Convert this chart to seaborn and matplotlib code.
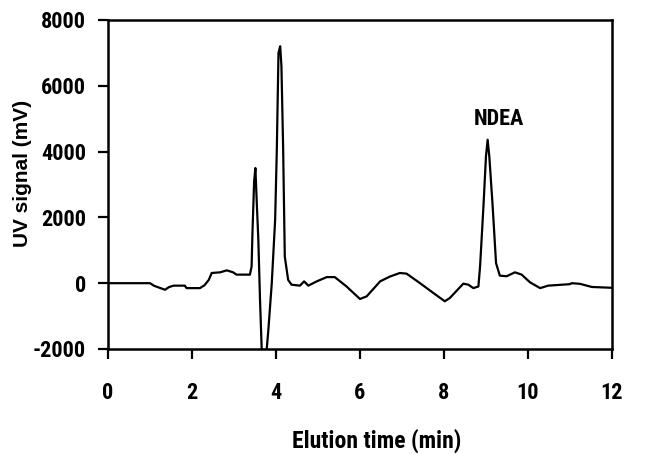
import pandas as pd
import matplotlib
matplotlib.use("Agg")
import matplotlib.pyplot as plt
import seaborn as sns

# --- Data ---
elution_time = [0.0, 1.0, 1.1, 1.25, 1.36, 1.45, 1.56, 1.83, 1.87, 2.19, 2.3, 2.4,
                2.47, 2.67, 2.83, 2.98, 3.06, 3.3, 3.38, 3.42, 3.44, 3.48, 3.51,
                3.54, 3.58, 3.62, 3.66, 3.72, 3.78, 3.82, 3.9, 3.98, 4.02, 4.06,
                4.1, 4.13, 4.17, 4.21, 4.29, 4.37, 4.57, 4.67, 4.77, 4.97, 5.21,
                5.4, 5.68, 6.0, 6.16, 6.48, 6.71, 6.95, 7.11, 7.43, 7.75, 8.02,
                8.14, 8.46, 8.58, 8.7, 8.82, 8.86, 8.94, 9.0, 9.04, 9.08, 9.16,
                9.24, 9.33, 9.49, 9.69, 9.85, 10.05, 10.29, 10.48, 11.0, 11.04,
                11.24, 11.52, 12.0]
uv_signal = [0, 0, -80, -150, -200, -120, -75, -75, -150, -150, -60, 100,
             310, 330, 390, 330, 260, 260, 260, 510, 1525, 3095, 3500,
             2540, 1325, -500, -2000, -2600, -2000, -1400, 0, 1920, 4050, 7000,
             7200, 6600, 4150, 810, 100, -45, -75, 55, -75, 55, 185,
             185, -100, -480, -400, 55, 200, 310, 290, 0, -300, -550,
             -450, -15, -45, -150, -100, 510, 2330, 3850, 4360, 3850, 2330,
             610, 230, 210, 330, 260, 25, -150, -75, -30, 0,
             -20, -115, -140]

x_ticks = [0, 2, 4, 6, 8, 10, 12]
y_ticks = [-2000, 0, 2000, 4000, 6000, 8000]

df = pd.DataFrame({"time": elution_time, "signal": uv_signal})

sns.set_style("ticks")
narrow = ["Roboto Condensed", "Liberation Sans", "DejaVu Sans"]
plt.rcParams["font.family"] = narrow
plt.rcParams["font.weight"] = "bold"
plt.rcParams["axes.unicode_minus"] = False
plt.rcParams["text.color"] = "black"
plt.rcParams["axes.labelcolor"] = "black"

fig = plt.figure(figsize=(6.6, 4.54), dpi=100)
ax = fig.add_axes([0.1636, 0.2313, 0.7636, 0.7247])

sns.lineplot(data=df, x="time", y="signal", color="black", linewidth=1.6,
             estimator=None, ax=ax)

ax.set_xlim(0, 12)
ax.set_ylim(-2000, 8000)
ax.set_xticks(x_ticks)
ax.set_yticks(y_ticks)
ax.tick_params(axis="x", length=7, width=1.6, pad=17, labelsize=16,
               colors="black")
ax.tick_params(axis="y", length=7, width=1.6, pad=9, labelsize=16,
               colors="black")
for lab in ax.get_xticklabels() + ax.get_yticklabels():
    lab.set_fontweight("bold")

for s in ax.spines.values():
    s.set_visible(True)
    s.set_linewidth(1.8)
    s.set_color("black")

ax.set_xlabel("Elution time (min)", fontsize=17, fontweight="bold", color="black")
ax.xaxis.set_label_coords(0.534, -0.28)
ax.xaxis.label.set_va("center")
ax.set_ylabel("UV signal (mV)", fontsize=15, fontweight="bold", color="black",
              family=["Liberation Sans", "DejaVu Sans"])
ax.yaxis.set_label_coords(-0.151, 0.535)

ax.text(9.31, 5000, "NDEA", ha="center", va="center", fontsize=16,
        fontweight="bold", color="black")

fig.savefig("out.png", dpi=100)
